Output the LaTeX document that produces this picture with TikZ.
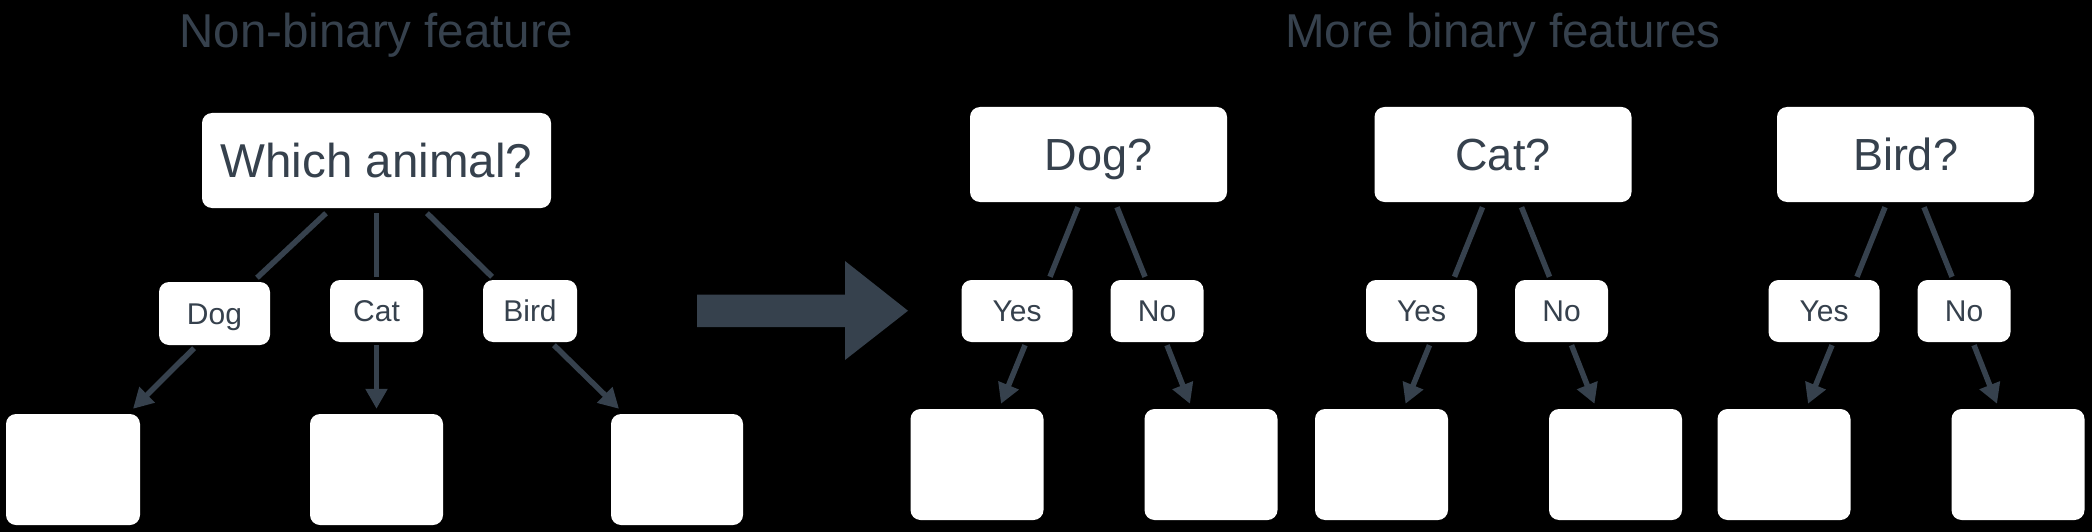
\documentclass[tikz,border=0pt]{standalone}
\usepackage{fontspec}
\setmainfont{Liberation Sans}
\usetikzlibrary{calc,arrows.meta}
\definecolor{slate}{HTML}{36414D}
\tikzset{
  x=1pt,y=-1pt,
  wbox/.style={fill=white,rounded corners=10pt,inner sep=0pt,text=slate,align=center},
  bigtxt/.style={font=\fontsize{47.5}{57}\selectfont,text height=34pt,text depth=0pt},
  qtxt/.style={font=\fontsize{45}{54}\selectfont,text height=32.2pt,text depth=0pt},
  lbltxt/.style={font=\fontsize{30}{36}\selectfont,text height=21.5pt,text depth=0pt},
  title/.style={text=slate,font=\fontsize{47.5}{57}\selectfont,inner sep=0pt,anchor=base},
  link/.style={draw=slate,line width=5.5pt},
  arr/.style={link,-{Triangle[length=20pt,width=21pt]}},
}
\begin{document}
\begin{tikzpicture}
\fill[black] (0,0) rectangle (2092,532);
\useasboundingbox (0,0) rectangle (2092,532);

% titles
\node[title] (t1) at (376,47.5) {Non-binary feature};
\node[title] (t2) at (1503,47.5) {More binary features};

% left tree
\node[wbox,bigtxt,minimum width=349pt,minimum height=95pt] (wa) at (376.5,160.5) {Which animal?};
\node[wbox,lbltxt,minimum width=111pt,minimum height=63pt] (ldog) at (214.5,313.5) {Dog};
\node[wbox,lbltxt,minimum width=93pt,minimum height=62pt] (lcat) at (376.5,311) {Cat};
\node[wbox,lbltxt,minimum width=94pt,minimum height=62pt] (lbird) at (530,311) {Bird};
\node[wbox,minimum width=134pt,minimum height=111pt] (leafa) at (73,469.5) {};
\node[wbox,minimum width=133pt,minimum height=111pt] (leafb) at (376.5,469.5) {};
\node[wbox,minimum width=132pt,minimum height=111pt] (leafc) at (677,469.5) {};

\draw[link] ($(wa.south)+(-50.5,5)$) -- ($(ldog.north)+(42.5,-4)$);
\draw[link] ($(wa.south)+(0,5)$) -- ($(lcat.north)+(0,-3)$);
\draw[link] ($(wa.south)+(50.5,5)$) -- ($(lbird.north)+(-38,-3)$);
\draw[arr] ($(ldog.south)+(-20.5,3)$) -- ($(leafa.north)+(60,-5)$);
\draw[arr] ($(lcat.south)+(0,3)$) -- ($(leafb.north)+(0,-5)$);
\draw[arr] ($(lbird.south)+(24,3)$) -- ($(leafc.north)+(-58,-5)$);

% big arrow
\fill[slate] (697,294.5) -- (845,294.5) -- (845,261) -- (908,310.75) -- (845,360) -- (845,327) -- (697,327) -- cycle;

% right trees
\foreach \c/\n/\t in {1098.5/dog/Dog?,1503/cat/Cat?,1905.5/bird/Bird?}{
  \node[wbox,qtxt,minimum width=257pt,minimum height=95pt] (q\n) at (\c,154.5) {\t};
  \node[wbox,lbltxt,minimum width=111pt,minimum height=62pt] (y\n) at (\c-81.5,311) {Yes};
  \node[wbox,lbltxt,minimum width=93pt,minimum height=62pt] (n\n) at (\c+58.5,311) {No};
  \node[wbox,minimum width=133pt,minimum height=111pt] (ly\n) at (\c-121.5,464.5) {};
  \node[wbox,minimum width=133pt,minimum height=111pt] (ln\n) at (\c+112.5,464.5) {};
  \draw[link] ($(q\n.south)+(-20.5,5)$) -- ($(y\n.north)+(33,-3)$);
  \draw[link] ($(q\n.south)+(18.5,5)$) -- ($(n\n.north)+(-12,-3)$);
  \draw[arr] ($(y\n.south)+(8,3)$) -- ($(ly\n.north)+(24,-5)$);
  \draw[arr] ($(n\n.south)+(10,3)$) -- ($(ln\n.north)+(-21,-5)$);
}
\end{tikzpicture}
\end{document}
